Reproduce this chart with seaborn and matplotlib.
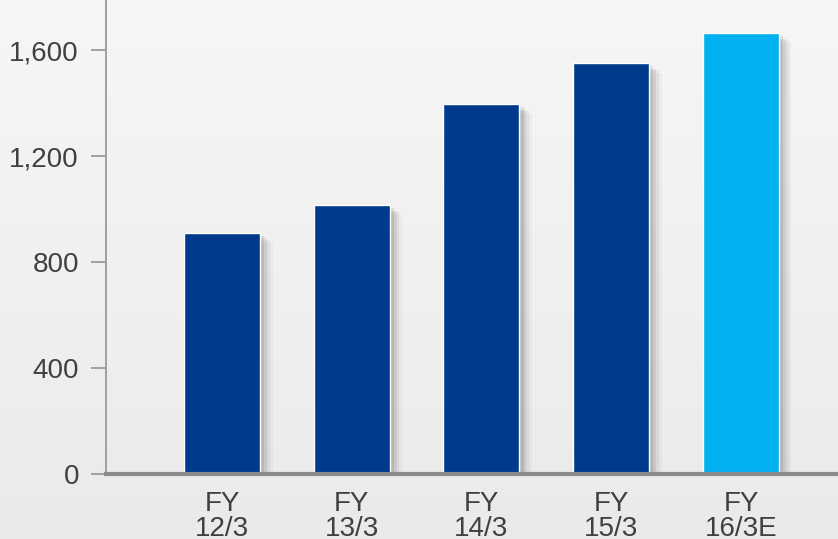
import matplotlib
matplotlib.use('Agg')
import matplotlib.pyplot as plt
import matplotlib.patheffects as pe
from matplotlib.ticker import FuncFormatter
import numpy as np
import pandas as pd
import seaborn as sns

# data
periods = ['FY\n12/3', 'FY\n13/3', 'FY\n14/3', 'FY\n15/3', 'FY\n16/3E']
values = [910, 1015, 1395, 1550, 1664]
bar_colors = ['#003A8C', '#003A8C', '#003A8C', '#003A8C', '#00B0F0']
y_ticks = [0, 400, 800, 1200, 1600]

df = pd.DataFrame({'period': periods, 'value': values})

sns.set_style('white')
plt.rcParams['font.family'] = ['Liberation Sans', 'DejaVu Sans']

fig = plt.figure(figsize=(8.38, 5.39), dpi=100)

# soft vertical background gradient
bg = fig.add_axes([0, 0, 1, 1], zorder=-1)
top = np.array([0.965, 0.965, 0.965])
bottom = np.array([0.918, 0.918, 0.918])
t = np.linspace(0, 1, 256)[:, None, None]
grad = top * (1 - t) + bottom * t
bg.imshow(grad, aspect='auto', extent=[0, 1, 0, 1])
bg.axis('off')

ax = fig.add_axes([106 / 838, 65 / 539, 732 / 838, 474 / 539])
ax.patch.set_alpha(0)

sns.barplot(data=df, x='period', y='value', hue='period', palette=bar_colors,
            width=0.586, saturation=1, legend=False, ax=ax)

# fake a blurred drop shadow with stacked soft offsets
for p in ax.patches:
    p.set_path_effects([
        pe.SimplePatchShadow(offset=(9, -7), shadow_rgbFace='k', alpha=0.03),
        pe.SimplePatchShadow(offset=(7, -5), shadow_rgbFace='k', alpha=0.05),
        pe.SimplePatchShadow(offset=(5, -4), shadow_rgbFace='k', alpha=0.07),
        pe.SimplePatchShadow(offset=(3, -2), shadow_rgbFace='k', alpha=0.09),
        pe.Normal(),
    ])

ax.set_xlim(-0.894, 4.748)
ax.set_ylim(0, 1789)
ax.set_yticks(y_ticks)
ax.yaxis.set_major_formatter(FuncFormatter(lambda v, _: f'{int(v):,}'))
ax.set_xlabel('')
ax.set_ylabel('')

for s in ['top', 'right']:
    ax.spines[s].set_visible(False)
ax.spines['left'].set_color('#9a9a9a')
ax.spines['left'].set_linewidth(1.3)
ax.spines['bottom'].set_color('#8a8a8a')
ax.spines['bottom'].set_linewidth(3)

ax.tick_params(axis='y', length=11, width=1.3, color='#9a9a9a', pad=8.5,
               labelsize=20, labelcolor='#404040', left=True)
ax.tick_params(axis='x', length=0, pad=12, labelsize=20, labelcolor='#404040')
for lbl in ax.get_xticklabels():
    lbl.set_linespacing(0.95)

fig.savefig('out.png', dpi=100)
